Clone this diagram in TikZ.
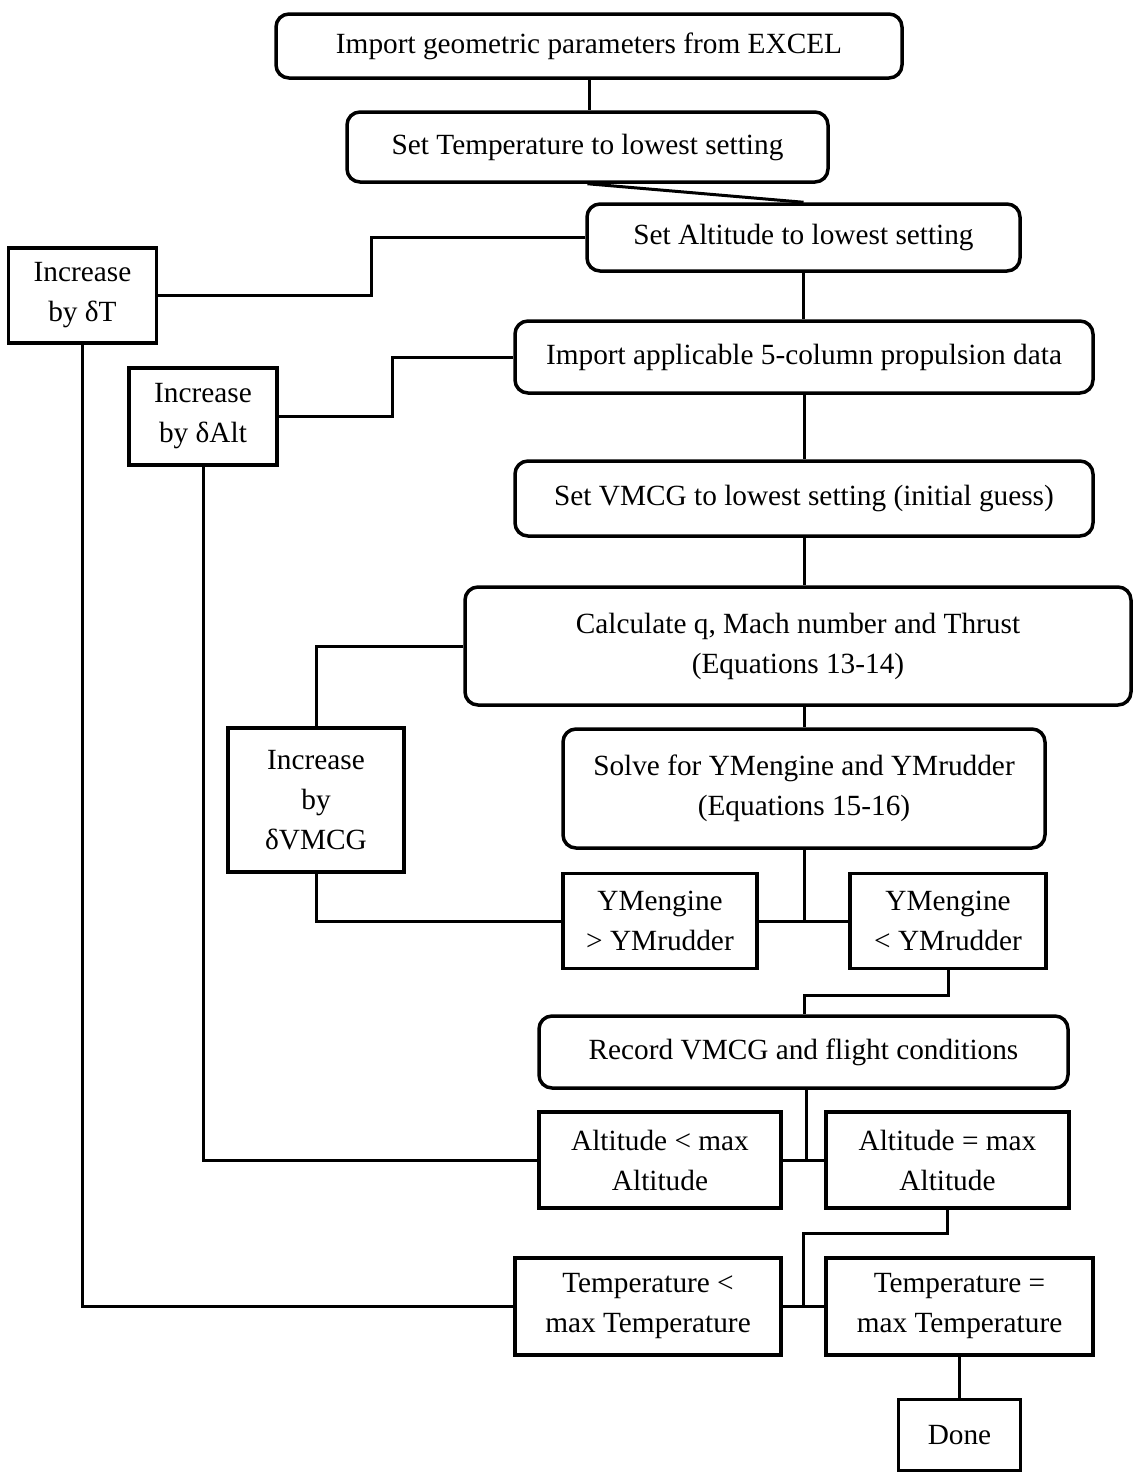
\documentclass[tikz,border=0pt]{standalone}
\usepackage{fontspec}
\setmainfont{Liberation Serif}
\begin{document}
\begin{tikzpicture}[x=1pt,y=-1pt,
  base/.style={draw=black, line width=3.5pt, inner sep=0pt, align=center,
    font=\fontsize{29.3}{40}\selectfont, fill=white},
  rbox/.style={base, rounded corners=13pt},
  sbox/.style={base},
  link/.style={draw=black, line width=3pt}]
\useasboundingbox (0,0) rectangle (1134,1473);

% main column
\node[rbox, minimum width=626, minimum height=64] (imp) at (589,46) {Import geometric parameters from EXCEL};
\node[rbox, minimum width=481, minimum height=70] (settemp) at (587.5,147) {Set Temperature to lowest setting};
\node[rbox, minimum width=433, minimum height=67] (setalt) at (803.5,237.5) {Set Altitude to lowest setting};
\node[rbox, minimum width=578, minimum height=72] (impprop) at (804,357) {Import applicable 5-column propulsion data};
\node[rbox, minimum width=578, minimum height=75] (setv) at (804,498.5) {Set VMCG to lowest setting (initial guess)};
\node[rbox, minimum width=666, minimum height=118] (calc) at (798,646) {Calculate q, Mach number and Thrust\\(Equations 13-14)};
\node[rbox, minimum width=482, minimum height=119] (solve) at (804,788.5) {Solve for YMengine and YMrudder\\(Equations 15-16)};
\node[rbox, minimum width=529, minimum height=72] (rec) at (803.5,1052) {Record VMCG and flight conditions};

% decision boxes
\node[sbox, minimum width=194, minimum height=95] (ymg) at (660,921) {YMengine\\> YMrudder};
\node[sbox, minimum width=196, minimum height=95] (yml) at (948,921) {YMengine\\< YMrudder};
\node[sbox, minimum width=242, minimum height=96] (altl) at (660,1160) {Altitude < max\\Altitude};
\node[sbox, minimum width=243, minimum height=96] (alte) at (947.5,1160) {Altitude = max\\Altitude};
\node[sbox, minimum width=266, minimum height=97] (templ) at (648,1306.5) {Temperature <\\max Temperature};
\node[sbox, minimum width=267, minimum height=97] (tempe) at (959.5,1306.5) {Temperature =\\max Temperature};
\node[sbox, minimum width=122, minimum height=71] (done) at (959.5,1435) {Done};

% increment boxes
\node[sbox, minimum width=148, minimum height=95] (incT) at (82.5,295.5) {Increase\\by δT};
\node[sbox, minimum width=148, minimum height=97] (incAlt) at (203,416.5) {Increase\\by δAlt};
\node[sbox, minimum width=176, minimum height=144] (incV) at (316,800) {Increase\\by\\δVMCG};

% junction points on the main trunk
\coordinate (jY) at (804,921);
\coordinate (jA) at (806,1160);
\coordinate (jT) at (803,1306.5);

% connectors
\draw[link] (imp.south) -- (imp.south |- settemp.north);
\draw[link] (settemp.south) -- (setalt.north);
\draw[link] (setalt.west) -- ++(-214,0) |- (incT.east);
\draw[link] (setalt.south) -- (setalt.south |- impprop.north);
\draw[link] (impprop.west) -- ++(-121,0) |- (incAlt.east);
\draw[link] (impprop.south) -- (setv.north);
\draw[link] (setv.south) -- (setv.south |- calc.north);
\draw[link] (calc.west) -| (incV.north);
\draw[link] (setv.south |- calc.south) -- (solve.north);
\draw[link] (solve.south) -- (jY);
\draw[link] (ymg.east) -- (yml.west);
\draw[link] (incV.south) |- (ymg.west);
\draw[link] (yml.south) -- ++(0,25) -| (jY |- rec.north);
\draw[link] (jA |- rec.south) -- (jA);
\draw[link] (altl.east) -- (alte.west);
\draw[link] (incAlt.south) |- (altl.west);
\draw[link] (alte.south) -- ++(0,24) -| (jT);
\draw[link] (templ.east) -- (tempe.west);
\draw[link] (incT.south) |- (templ.west);
\draw[link] (tempe.south) -- (done.north);
\end{tikzpicture}
\end{document}
